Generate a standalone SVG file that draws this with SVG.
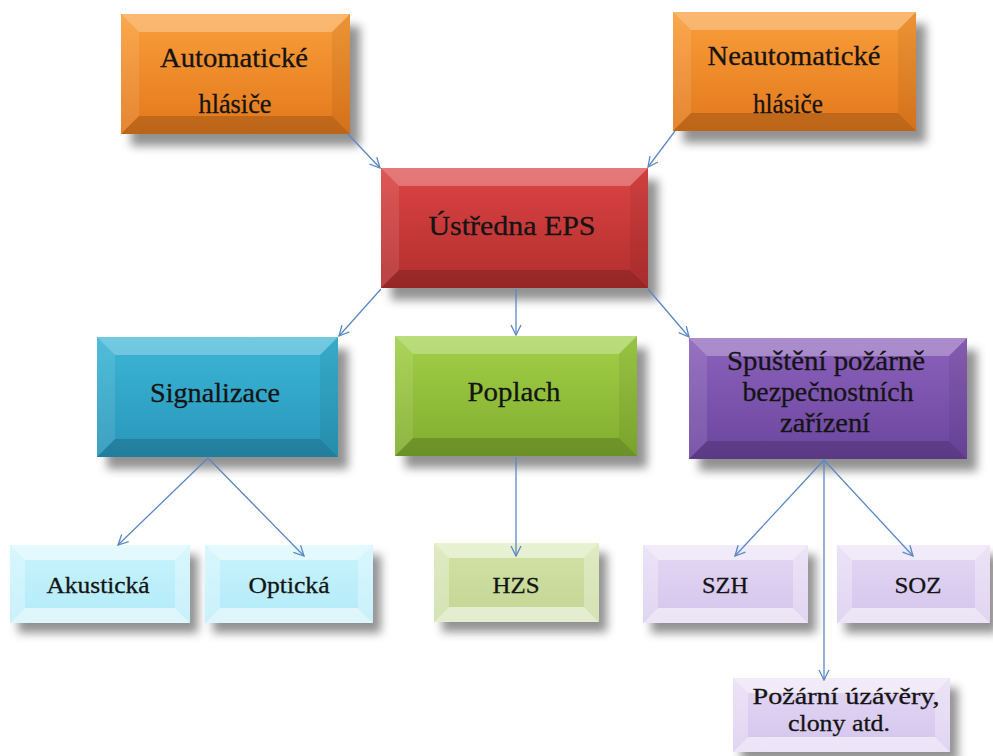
<svg xmlns="http://www.w3.org/2000/svg" width="993" height="756" viewBox="0 0 993 756" font-family="'Liberation Serif', 'Times New Roman', serif">
<style>
text{font-family:'Liberation Serif','Times New Roman',serif;fill:#141414;stroke:#141414;stroke-width:.3;text-anchor:middle}
text.big{font-size:28px}
text.sm{font-size:24px}
.sh{fill:#6e6e6e;opacity:.75;filter:url(#blur)}
.bt{fill:#fff;opacity:.28}
.bl{fill:#fff;opacity:.1}
.br{fill:#000;opacity:.06}
.bb{fill:#000;opacity:.16}
.lt{fill:#fff;opacity:.5}
.ls{fill:#fff;opacity:.3}
.lb{fill:#fff;opacity:.55}
.con line{stroke:#5a88c4;stroke-width:1.3;fill:none;marker-end:url(#arr)}
</style>
<defs>
<filter id="blur" x="-20%" y="-20%" width="140%" height="140%"><feGaussianBlur stdDeviation="5"/></filter>
<marker id="arr" viewBox="0 0 12 12" refX="11" refY="6" markerWidth="12" markerHeight="12" markerUnits="userSpaceOnUse" orient="auto"><path d="M1,1 L11,6 L1,11" fill="none" stroke="#5a88c4" stroke-width="1.3"/></marker>
<linearGradient id="gO" x1="0" y1="0" x2="0" y2="1"><stop offset="0" stop-color="#fa9e3a"/><stop offset="1" stop-color="#e2781c"/></linearGradient>
<linearGradient id="gR" x1="0" y1="0" x2="0" y2="1"><stop offset="0" stop-color="#dc4444"/><stop offset="1" stop-color="#b22e2e"/></linearGradient>
<linearGradient id="gB" x1="0" y1="0" x2="0" y2="1"><stop offset="0" stop-color="#3cb6d6"/><stop offset="1" stop-color="#2896ba"/></linearGradient>
<linearGradient id="gG" x1="0" y1="0" x2="0" y2="1"><stop offset="0" stop-color="#a2d048"/><stop offset="1" stop-color="#80ad2e"/></linearGradient>
<linearGradient id="gP" x1="0" y1="0" x2="0" y2="1"><stop offset="0" stop-color="#8c62bb"/><stop offset="1" stop-color="#6c459f"/></linearGradient>
<linearGradient id="gLB" x1="0" y1="0" x2="0" y2="1"><stop offset="0" stop-color="#c8f4fd"/><stop offset="1" stop-color="#b2eaf8"/></linearGradient>
<linearGradient id="gLG" x1="0" y1="0" x2="0" y2="1"><stop offset="0" stop-color="#d2e2a6"/><stop offset="1" stop-color="#c2d694"/></linearGradient>
<linearGradient id="gLP" x1="0" y1="0" x2="0" y2="1"><stop offset="0" stop-color="#e4d8f4"/><stop offset="1" stop-color="#d4c4ec"/></linearGradient>
</defs>
<rect width="993" height="756" fill="#fff"/>

<g id="n-auto">
<rect class="sh" x="131" y="26" width="229" height="120"/>
<rect x="121" y="14" width="229" height="120" fill="url(#gO)"/>
<polygon class="bt" points="121,14 350,14 332,32 139,32"/>
<polygon class="bl" points="121,14 139,32 139,116 121,134"/>
<polygon class="br" points="350,14 350,134 332,116 332,32"/>
<polygon class="bb" points="121,134 350,134 332,116 139,116"/>
<text class="big" x="234" y="67" textLength="148" lengthAdjust="spacingAndGlyphs">Automatické</text>
<text class="big" x="235" y="113" textLength="73" lengthAdjust="spacingAndGlyphs">hlásiče</text>
</g>

<g id="n-neauto">
<rect class="sh" x="683" y="24" width="243" height="119"/>
<rect x="673" y="12" width="243" height="119" fill="url(#gO)"/>
<polygon class="bt" points="673,12 916,12 898,30 691,30"/>
<polygon class="bl" points="673,12 691,30 691,113 673,131"/>
<polygon class="br" points="916,12 916,131 898,113 898,30"/>
<polygon class="bb" points="673,131 916,131 898,113 691,113"/>
<text class="big" x="794" y="65" textLength="173" lengthAdjust="spacingAndGlyphs">Neautomatické</text>
<text class="big" x="788" y="113" textLength="70" lengthAdjust="spacingAndGlyphs">hlásiče</text>
</g>

<g id="n-ustredna">
<rect class="sh" x="391" y="180" width="267" height="120"/>
<rect x="381" y="168" width="267" height="120" fill="url(#gR)"/>
<polygon class="bt" points="381,168 648,168 630,186 399,186"/>
<polygon class="bl" points="381,168 399,186 399,270 381,288"/>
<polygon class="br" points="648,168 648,288 630,270 630,186"/>
<polygon class="bb" points="381,288 648,288 630,270 399,270"/>
<text class="big" x="512" y="235" textLength="167" lengthAdjust="spacingAndGlyphs">Ústředna EPS</text>
</g>

<g id="n-signalizace">
<rect class="sh" x="107" y="349" width="241" height="120"/>
<rect x="97" y="337" width="241" height="120" fill="url(#gB)"/>
<polygon class="bt" points="97,337 338,337 320,355 115,355"/>
<polygon class="bl" points="97,337 115,355 115,439 97,457"/>
<polygon class="br" points="338,337 338,457 320,439 320,355"/>
<polygon class="bb" points="97,457 338,457 320,439 115,439"/>
<text class="big" x="215" y="402" textLength="130" lengthAdjust="spacingAndGlyphs">Signalizace</text>
</g>

<g id="n-poplach">
<rect class="sh" x="405" y="348" width="242" height="120"/>
<rect x="395" y="336" width="242" height="120" fill="url(#gG)"/>
<polygon class="bt" points="395,336 637,336 619,354 413,354"/>
<polygon class="bl" points="395,336 413,354 413,438 395,456"/>
<polygon class="br" points="637,336 637,456 619,438 619,354"/>
<polygon class="bb" points="395,456 637,456 619,438 413,438"/>
<text class="big" x="514" y="401" textLength="93" lengthAdjust="spacingAndGlyphs">Poplach</text>
</g>

<g id="n-spusteni">
<rect class="sh" x="699" y="350" width="278" height="121"/>
<rect x="689" y="338" width="278" height="121" fill="url(#gP)"/>
<polygon class="bt" points="689,338 967,338 949,356 707,356"/>
<polygon class="bl" points="689,338 707,356 707,441 689,459"/>
<polygon class="br" points="967,338 967,459 949,441 949,356"/>
<polygon class="bb" points="689,459 967,459 949,441 707,441"/>
<text class="big" x="826" y="370" textLength="198" lengthAdjust="spacingAndGlyphs">Spuštění požárně</text>
<text class="big" x="828" y="401" textLength="171" lengthAdjust="spacingAndGlyphs">bezpečnostních</text>
<text class="big" x="825" y="432" textLength="90" lengthAdjust="spacingAndGlyphs">zařízení</text>
</g>

<g id="n-akusticka">
<rect class="sh" x="18" y="555" width="180" height="78"/>
<rect x="10" y="545" width="180" height="78" fill="url(#gLB)"/>
<polygon class="lt" points="10,545 190,545 175,560 25,560"/>
<polygon class="ls" points="10,545 25,560 25,608 10,623"/>
<polygon class="ls" points="190,545 190,623 175,608 175,560"/>
<polygon class="lb" points="10,623 190,623 175,608 25,608"/>
<text class="sm" x="98" y="593" textLength="103" lengthAdjust="spacingAndGlyphs">Akustická</text>
</g>

<g id="n-opticka">
<rect class="sh" x="213" y="555" width="168" height="78"/>
<rect x="205" y="545" width="168" height="78" fill="url(#gLB)"/>
<polygon class="lt" points="205,545 373,545 358,560 220,560"/>
<polygon class="ls" points="205,545 220,560 220,608 205,623"/>
<polygon class="ls" points="373,545 373,623 358,608 358,560"/>
<polygon class="lb" points="205,623 373,623 358,608 220,608"/>
<text class="sm" x="289" y="593" textLength="81" lengthAdjust="spacingAndGlyphs">Optická</text>
</g>

<g id="n-hzs">
<rect class="sh" x="442" y="553" width="165" height="79"/>
<rect x="434" y="543" width="165" height="79" fill="url(#gLG)"/>
<polygon class="lt" points="434,543 599,543 584,558 449,558"/>
<polygon class="ls" points="434,543 449,558 449,607 434,622"/>
<polygon class="ls" points="599,543 599,622 584,607 584,558"/>
<polygon class="lb" points="434,622 599,622 584,607 449,607"/>
<text class="sm" x="516" y="593" textLength="47" lengthAdjust="spacingAndGlyphs">HZS</text>
</g>

<g id="n-szh">
<rect class="sh" x="651" y="555" width="165" height="78"/>
<rect x="643" y="545" width="165" height="78" fill="url(#gLP)"/>
<polygon class="lt" points="643,545 808,545 793,560 658,560"/>
<polygon class="ls" points="643,545 658,560 658,608 643,623"/>
<polygon class="ls" points="808,545 808,623 793,608 793,560"/>
<polygon class="lb" points="643,623 808,623 793,608 658,608"/>
<text class="sm" x="725" y="593" textLength="46" lengthAdjust="spacingAndGlyphs">SZH</text>
</g>

<g id="n-soz">
<rect class="sh" x="845" y="555" width="153" height="78"/>
<rect x="837" y="545" width="153" height="78" fill="url(#gLP)"/>
<polygon class="lt" points="837,545 990,545 975,560 852,560"/>
<polygon class="ls" points="837,545 852,560 852,608 837,623"/>
<polygon class="ls" points="990,545 990,623 975,608 975,560"/>
<polygon class="lb" points="837,623 990,623 975,608 852,608"/>
<text class="sm" x="918" y="593" textLength="47" lengthAdjust="spacingAndGlyphs">SOZ</text>
</g>

<g id="n-pozarni">
<rect class="sh" x="741" y="688" width="217" height="74"/>
<rect x="733" y="678" width="217" height="74" fill="url(#gLP)"/>
<polygon class="lt" points="733,678 950,678 935,693 748,693"/>
<polygon class="ls" points="733,678 748,693 748,737 733,752"/>
<polygon class="ls" points="950,678 950,752 935,737 935,693"/>
<polygon class="lb" points="733,752 950,752 935,737 748,737"/>
<text class="sm" x="846" y="704" textLength="187" lengthAdjust="spacingAndGlyphs">Požární úzávěry,</text>
<text class="sm" x="839" y="731" textLength="102" lengthAdjust="spacingAndGlyphs">clony atd.</text>
</g>

<g id="connectors" class="con">
<line x1="347" y1="133" x2="380" y2="168"/>
<line x1="675" y1="131" x2="648" y2="167"/>
<line x1="381" y1="289" x2="339" y2="336"/>
<line x1="516" y1="289" x2="516" y2="335"/>
<line x1="648" y1="289" x2="689" y2="337"/>
<line x1="208" y1="458" x2="118" y2="545"/>
<line x1="208" y1="458" x2="304" y2="556"/>
<line x1="516" y1="457" x2="516" y2="556"/>
<line x1="824" y1="460" x2="735" y2="556"/>
<line x1="824" y1="460" x2="913" y2="556"/>
<line x1="824" y1="460" x2="824" y2="680"/>
</g>
</svg>
